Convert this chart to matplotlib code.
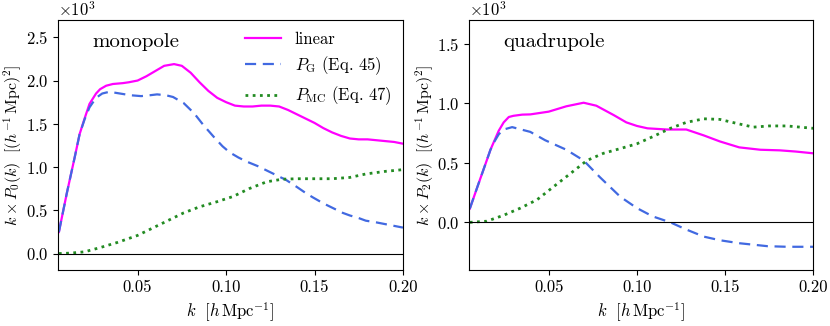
import matplotlib
matplotlib.use("Agg")
import matplotlib.pyplot as plt
import numpy as np

plt.rcParams["font.family"] = "serif"
plt.rcParams["font.serif"] = ["cmr10", "DejaVu Serif"]
plt.rcParams["mathtext.fontset"] = "cm"
plt.rcParams["axes.unicode_minus"] = False
plt.rcParams["axes.formatter.use_mathtext"] = True
plt.rcParams["font.size"] = 12

# -----------------------------
# Data, k in h/Mpc, values in units of 1e3
# -----------------------------
k_mono_lin = [0.0055, 0.010, 0.0144, 0.0172, 0.020, 0.0228, 0.0265, 0.0288, 0.0322, 0.0360,
              0.0416, 0.045, 0.050, 0.055, 0.060, 0.065, 0.0706, 0.075, 0.080, 0.085,
              0.090, 0.095, 0.100, 0.105, 0.110, 0.115, 0.120, 0.125, 0.130, 0.135,
              0.140, 0.145, 0.150, 0.155, 0.160, 0.165, 0.170, 0.175, 0.180, 0.185,
              0.190, 0.195, 0.200]
mono_lin = [0.25, 0.70, 1.11, 1.38, 1.56, 1.73, 1.85, 1.90, 1.94, 1.96,
            1.97, 1.98, 2.00, 2.05, 2.11, 2.17, 2.19, 2.17, 2.09, 1.98,
            1.88, 1.80, 1.75, 1.71, 1.70, 1.70, 1.71, 1.71, 1.70, 1.66,
            1.61, 1.56, 1.51, 1.45, 1.40, 1.36, 1.33, 1.32, 1.32, 1.31,
            1.30, 1.29, 1.27]

k_mono_g = [0.0055, 0.010, 0.0144, 0.0172, 0.020, 0.0228, 0.0265, 0.030, 0.034, 0.040,
            0.046, 0.052, 0.057, 0.061, 0.066, 0.070, 0.076, 0.082, 0.087, 0.093,
            0.098, 0.102, 0.107, 0.112, 0.118, 0.123, 0.128, 0.134, 0.140, 0.145,
            0.149, 0.155, 0.161, 0.166, 0.170, 0.175, 0.179, 0.185, 0.190, 0.195,
            0.200]
mono_g = [0.25, 0.70, 1.11, 1.38, 1.55, 1.69, 1.80, 1.85, 1.87, 1.85,
          1.83, 1.82, 1.83, 1.84, 1.83, 1.81, 1.74, 1.62, 1.49, 1.35,
          1.24, 1.17, 1.11, 1.06, 1.01, 0.96, 0.91, 0.85, 0.77, 0.70,
          0.65, 0.58, 0.52, 0.47, 0.44, 0.41, 0.38, 0.36, 0.34, 0.32,
          0.30]

k_mono_mc = [0.0055, 0.012, 0.020, 0.029, 0.0388, 0.050, 0.059, 0.067, 0.076, 0.085,
             0.095, 0.104, 0.113, 0.123, 0.132, 0.141, 0.150, 0.160, 0.170, 0.179,
             0.190, 0.200]
mono_mc = [0.0, 0.005, 0.02, 0.07, 0.13, 0.21, 0.30, 0.38, 0.47, 0.54,
           0.60, 0.66, 0.75, 0.83, 0.86, 0.865, 0.865, 0.865, 0.88, 0.92,
           0.95, 0.97]

k_quad_lin = [0.0053, 0.010, 0.015, 0.017, 0.0189, 0.0217, 0.0245, 0.0274, 0.030, 0.035,
              0.0396, 0.050, 0.060, 0.0698, 0.077, 0.087, 0.094, 0.100, 0.106, 0.117,
              0.128, 0.138, 0.147, 0.158, 0.170, 0.181, 0.190, 0.200]
quad_lin = [0.115, 0.315, 0.525, 0.61, 0.675, 0.77, 0.84, 0.885, 0.895, 0.905,
            0.907, 0.93, 0.975, 1.005, 0.98, 0.90, 0.84, 0.81, 0.79, 0.78,
            0.78, 0.73, 0.68, 0.63, 0.61, 0.605, 0.595, 0.58]

k_quad_g = [0.0053, 0.010, 0.015, 0.017, 0.0189, 0.0217, 0.0245, 0.0293, 0.0396, 0.048,
            0.060, 0.0698, 0.079, 0.0906, 0.100, 0.109, 0.119, 0.128, 0.138, 0.147,
            0.158, 0.174, 0.185, 0.200]
quad_g = [0.115, 0.315, 0.525, 0.61, 0.67, 0.74, 0.78, 0.80, 0.76, 0.69,
          0.61, 0.52, 0.38, 0.215, 0.12, 0.05, 0.0, -0.06, -0.12, -0.15,
          -0.175, -0.20, -0.205, -0.205]

k_quad_mc = [0.0053, 0.015, 0.0245, 0.034, 0.0434, 0.0528, 0.0623, 0.0717, 0.081, 0.0906,
             0.100, 0.109, 0.119, 0.128, 0.138, 0.147, 0.157, 0.166, 0.175, 0.185,
             0.200]
quad_mc = [0.0, 0.01, 0.06, 0.12, 0.19, 0.30, 0.41, 0.52, 0.58, 0.62,
           0.66, 0.72, 0.79, 0.84, 0.87, 0.865, 0.83, 0.80, 0.81, 0.81,
           0.79]

panels = [
    ("monopole", r"$k \times P_0(k)\ \ [(h^{-1}\,\mathrm{Mpc})^2]$",
     (k_mono_lin, mono_lin), (k_mono_g, mono_g), (k_mono_mc, mono_mc), (-0.19, 2.7)),
    ("quadrupole", r"$k \times P_2(k)\ \ [(h^{-1}\,\mathrm{Mpc})^2]$",
     (k_quad_lin, quad_lin), (k_quad_g, quad_g), (k_quad_mc, quad_mc), (-0.4, 1.7)),
]

fig = plt.figure(figsize=(8.3, 3.26), dpi=100)
axes = [fig.add_axes([0.0699, 0.1718, 0.4156, 0.7669]),
        fig.add_axes([0.5654, 0.1718, 0.4145, 0.7669])]

for ax, (name, ylab, lin, pg, pmc, ylim) in zip(axes, panels):
    ax.plot(lin[0], np.array(lin[1]) * 1e3, color="#FF00FF", lw=1.6, label="linear")
    ax.plot(pg[0], np.array(pg[1]) * 1e3, color="#4169E1", lw=1.6, ls=(0, (5, 3)),
            label=r"$P_{\rm G}$ (Eq. 45)")
    ax.plot(pmc[0], np.array(pmc[1]) * 1e3, color="#228B22", lw=2.0, ls=(0, (1, 1.6)),
            label=r"$P_{\rm MC}$ (Eq. 47)")
    ax.axhline(0, color="black", lw=0.8)
    ax.set_xlim(0.005, 0.2)
    ax.set_ylim(ylim[0] * 1e3, ylim[1] * 1e3)
    ax.set_xticks([0.05, 0.10, 0.15, 0.20])
    ax.set_xticklabels(["0.05", "0.10", "0.15", "0.20"])
    ax.ticklabel_format(style="sci", axis="y", scilimits=(0, 0))
    ax.set_xlabel(r"$k\ \ [h\,\mathrm{Mpc}^{-1}]$")
    ax.set_ylabel(ylab, fontsize=11.5, labelpad=1)
    ax.text(0.10, 0.91, name, transform=ax.transAxes, fontsize=15, va="center")

axes[0].legend(loc="upper right", frameon=False, fontsize=12, handlelength=2.2,
               handletextpad=0.8, labelspacing=0.45, borderaxespad=0.3)

fig.savefig("out.png", dpi=100)
